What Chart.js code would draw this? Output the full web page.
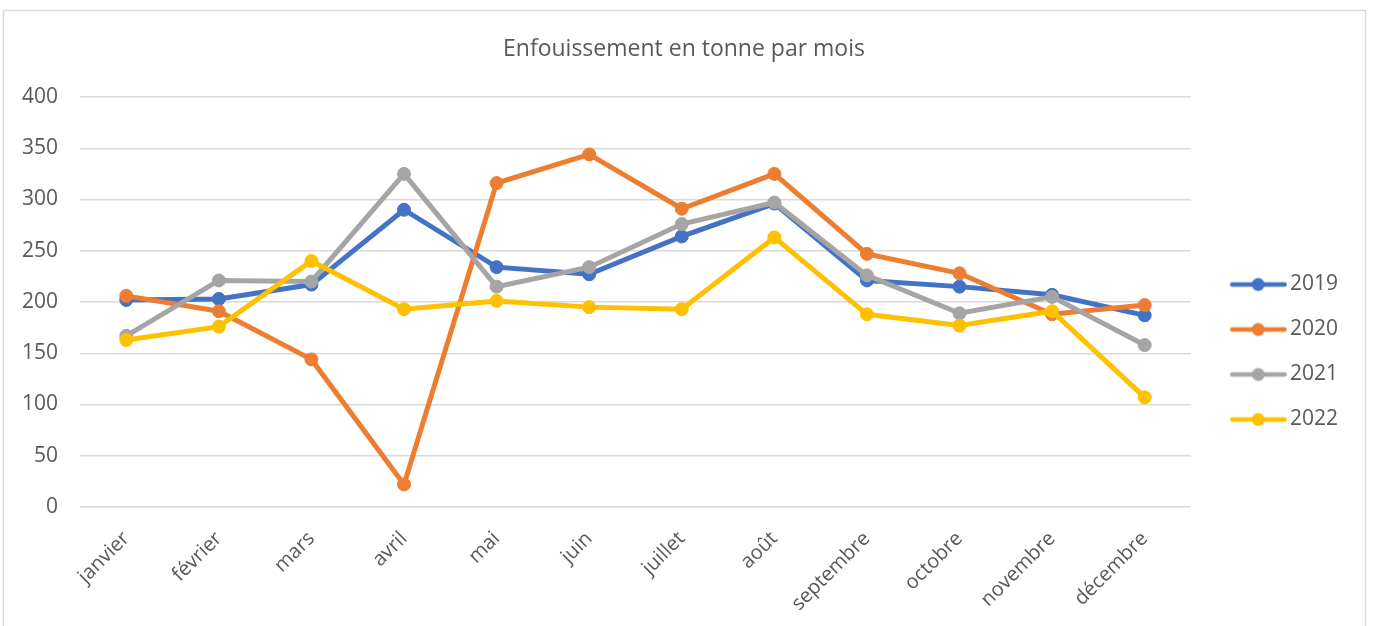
<!DOCTYPE html>
<html>
<head>
<meta charset="utf-8">
<script src="https://cdn.jsdelivr.net/npm/chart.js@4.4.1/dist/chart.umd.min.js"></script>
<style>
  html, body { margin: 0; padding: 0; background: #ffffff; }
  #wrap { position: relative; width: 1376px; height: 626px; }
</style>
</head>
<body>
<div id="wrap"><canvas id="c" width="1376" height="626"></canvas></div>
<script>
// ---- data ----
const chartTitle = 'Enfouissement en tonne par mois';
const months = ['janvier', 'février', 'mars', 'avril', 'mai', 'juin', 'juillet', 'août', 'septembre', 'octobre', 'novembre', 'décembre'];
const seriesNames = ['2019', '2020', '2021', '2022'];
const values2019 = [202, 203, 217, 290, 234, 227, 264, 296, 221, 215, 207, 187];
const values2020 = [206, 191, 144, 22, 316, 344, 291, 325, 247, 228, 188, 197];
const values2021 = [167, 221, 220, 325, 215, 234, 276, 297, 226, 189, 205, 158];
const values2022 = [163, 176, 240, 193, 201, 195, 193, 263, 188, 177, 191, 107];
const yTickMin = 0;
const yTickMax = 400;
const yTickStep = 50;

// ---- styles ----
const colors = ['#4472C4', '#ED7D31', '#A5A5A5', '#FFC000'];
const textColor = '#595959';
const gridColor = '#D9D9D9';

Chart.defaults.font.family = "'Open Sans', 'Noto Sans', sans-serif";
Chart.defaults.color = textColor;

function legendIcon(color) {
  const c = document.createElement('canvas');
  c.width = 80; c.height = 16;
  const g = c.getContext('2d');
  g.strokeStyle = color;
  g.lineWidth = 4.5;
  g.lineCap = 'round';
  g.beginPath();
  g.moveTo(25, 8); g.lineTo(77.5, 8);
  g.stroke();
  g.fillStyle = color;
  g.beginPath();
  g.arc(51, 8, 6.5, 0, Math.PI * 2);
  g.fill();
  return c;
}

const frame = {
  id: 'frame',
  beforeDraw(chart) {
    const ctx = chart.ctx;
    ctx.save();
    ctx.strokeStyle = '#D9D9D9';
    ctx.lineWidth = 1.5;
    ctx.strokeRect(3.5, 10.5, 1362, 700);
    ctx.restore();
  }
};

const seriesValues = [values2019, values2020, values2021, values2022];
const datasets = seriesNames.map((name, i) => ({
  label: name,
  data: seriesValues[i],
  borderColor: colors[i],
  backgroundColor: colors[i],
  pointBackgroundColor: colors[i],
  pointBorderColor: colors[i],
  borderWidth: 5,
  pointRadius: 6.5,
  pointBorderWidth: 1,
  tension: 0,
  order: seriesNames.length - i
}));

new Chart(document.getElementById('c'), {
  type: 'line',
  data: { labels: months, datasets },
  plugins: [frame],
  options: {
    responsive: false,
    animation: false,
    layout: { padding: { top: 10, left: 20, right: 28, bottom: 0 } },
    plugins: {
      tooltip: { enabled: false },
      title: {
        display: true,
        text: chartTitle,
        color: textColor,
        font: { size: 23, weight: 'normal' },
        padding: { top: 25.4, bottom: 34 }
      },
      legend: {
        position: 'right',
        align: 'center',
        title: { display: true, text: '', font: { size: 12 }, padding: { top: 53.6, bottom: 0 } },
        labels: {
          usePointStyle: true,
          pointStyleWidth: 64.5,
          padding: 24,
          color: textColor,
          font: { size: 21 },
          sort: (a, b) => a.datasetIndex - b.datasetIndex,
          generateLabels(chart) {
            const items = Chart.defaults.plugins.legend.labels.generateLabels(chart);
            items.forEach(it => { it.pointStyle = legendIcon(colors[it.datasetIndex]); });
            return items;
          }
        }
      }
    },
    scales: {
      x: {
        offset: true,
        grid: { display: false, drawTicks: false },
        border: { display: false },
        ticks: { minRotation: 45, maxRotation: 45, autoSkip: false, padding: 20, font: { size: 20 }, color: textColor },
        afterFit(scale) { scale.height = 119; }
      },
      y: {
        min: yTickMin,
        max: yTickMax,
        grid: { color: gridColor, lineWidth: 1.5, drawTicks: false },
        border: { display: false },
        ticks: { stepSize: yTickStep, padding: 22, font: { size: 21 }, color: textColor },
        afterFit(scale) { scale.width = 60; }
      }
    }
  }
});
</script>
</body>
</html>
